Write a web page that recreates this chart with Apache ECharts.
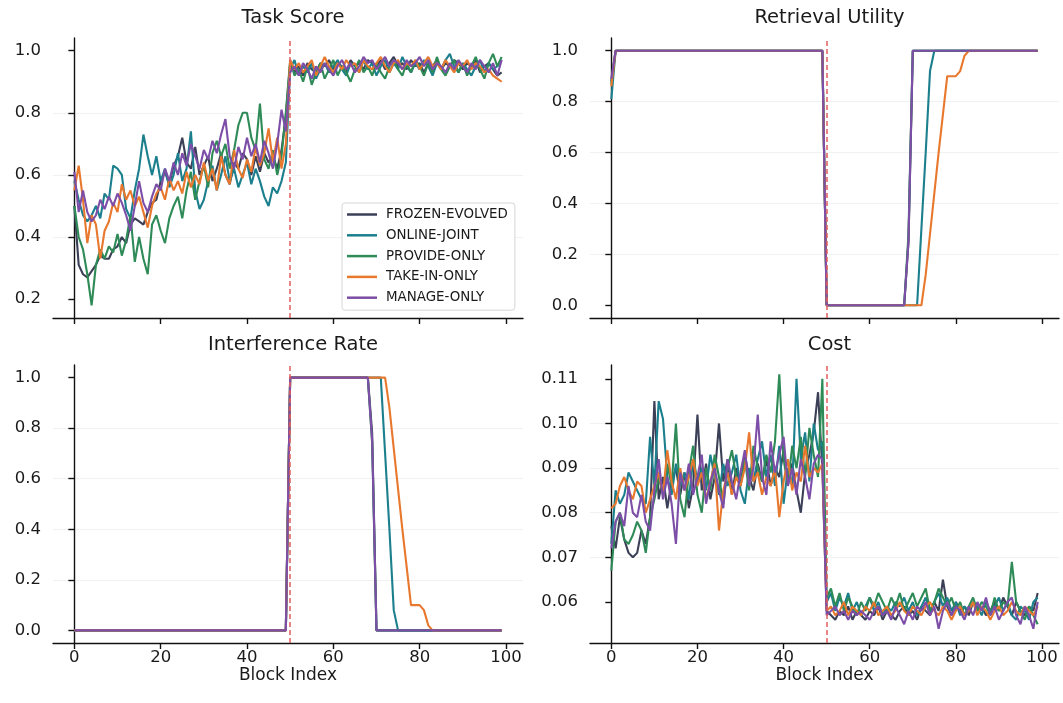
<!DOCTYPE html>
<html>
<head>
<meta charset="utf-8">
<script src="https://cdn.jsdelivr.net/npm/echarts@6/dist/echarts.min.js"></script>
<style>
html, body { margin: 0; padding: 0; background: #fff; }
#chart { width: 1063px; height: 703px; }
</style>
</head>
<body>
<div id="chart"></div>
<script>
// ---- data ----
const methods = ['FROZEN-EVOLVED', 'ONLINE-JOINT', 'PROVIDE-ONLY', 'TAKE-IN-ONLY', 'MANAGE-ONLY'];
const colors = ['#3c4057', '#1c7f8d', '#2e8b57', '#e8782e', '#7c4ea7'];
const blocks = Array.from({ length: 100 }, (_, i) => i);
const shiftBlock = 50;
const xTicks = [0, 20, 40, 60, 80, 100];
const scoreTicks = [0.2, 0.4, 0.6, 0.8, 1.0];
const unitTicks = [0, 0.2, 0.4, 0.6, 0.8, 1.0];
const costTicks = [0.06, 0.07, 0.08, 0.09, 0.10, 0.11];

// Task Score
const scoreFrozen = [
  0.50,0.31,0.28,0.27,0.29,0.31,0.34,0.33,0.33,0.36,
  0.37,0.40,0.38,0.44,0.46,0.45,0.44,0.48,0.51,0.52,
  0.58,0.61,0.57,0.63,0.66,0.72,0.64,0.62,0.69,0.60,
  0.63,0.66,0.58,0.62,0.67,0.60,0.57,0.64,0.62,0.67,
  0.65,0.60,0.66,0.61,0.67,0.64,0.66,0.62,0.68,0.79,
  0.96,0.93,0.95,0.92,0.96,0.94,0.93,0.96,0.95,0.97,
  0.94,0.96,0.95,0.93,0.97,0.95,0.96,0.94,0.97,0.96,
  0.95,0.97,0.94,0.96,0.98,0.95,0.96,0.94,0.97,0.95,
  0.96,0.93,0.96,0.95,0.97,0.94,0.96,0.95,0.97,0.96,
  0.94,0.96,0.95,0.97,0.93,0.95,0.96,0.94,0.92,0.93
];
const scoreOnline = [
  0.58,0.52,0.47,0.45,0.47,0.50,0.46,0.54,0.52,0.63,
  0.62,0.60,0.49,0.46,0.55,0.62,0.73,0.66,0.60,0.66,
  0.58,0.62,0.56,0.60,0.67,0.58,0.62,0.74,0.55,0.49,
  0.52,0.58,0.63,0.55,0.60,0.66,0.58,0.62,0.56,0.60,
  0.64,0.57,0.62,0.58,0.53,0.50,0.56,0.54,0.58,0.64,
  0.94,0.97,0.92,0.95,0.93,0.96,0.91,0.94,0.96,0.93,
  0.95,0.97,0.94,0.92,0.96,0.95,0.93,0.97,0.94,0.96,
  0.92,0.95,0.97,0.93,0.96,0.94,0.98,0.95,0.93,0.96,
  0.94,0.97,0.95,0.92,0.96,0.94,0.97,0.99,0.95,0.93,
  0.96,0.94,0.92,0.95,0.97,0.93,0.96,0.94,0.95,0.97
];
const scoreProvide = [
  0.50,0.40,0.36,0.28,0.18,0.31,0.36,0.33,0.37,0.35,
  0.41,0.34,0.39,0.47,0.32,0.40,0.33,0.28,0.44,0.47,
  0.42,0.38,0.46,0.50,0.53,0.46,0.55,0.61,0.52,0.58,
  0.63,0.56,0.67,0.71,0.66,0.70,0.62,0.68,0.76,0.80,
  0.80,0.72,0.68,0.83,0.65,0.62,0.68,0.60,0.66,0.80,
  0.97,0.92,0.94,0.90,0.95,0.89,0.93,0.96,0.91,0.94,
  0.97,0.92,0.95,0.93,0.90,0.94,0.97,0.93,0.95,0.92,
  0.96,0.93,0.91,0.95,0.97,0.94,0.92,0.96,0.93,0.97,
  0.95,0.92,0.96,0.93,0.98,0.94,0.92,0.95,0.97,0.93,
  0.96,0.92,0.95,0.98,0.94,0.91,0.96,0.99,0.95,0.98
];
const scoreTakeIn = [
  0.55,0.63,0.52,0.38,0.47,0.44,0.33,0.42,0.45,0.51,
  0.48,0.57,0.52,0.55,0.50,0.53,0.48,0.43,0.50,0.54,
  0.56,0.52,0.59,0.55,0.58,0.54,0.61,0.56,0.60,0.57,
  0.64,0.58,0.62,0.55,0.66,0.60,0.57,0.68,0.62,0.59,
  0.65,0.61,0.69,0.63,0.67,0.75,0.64,0.72,0.62,0.70,
  0.97,0.94,0.96,0.93,0.95,0.97,0.92,0.95,0.98,0.95,
  0.93,0.96,0.94,0.97,0.95,0.96,0.93,0.97,0.95,0.94,
  0.96,0.98,0.95,0.93,0.96,0.97,0.94,0.96,0.95,0.97,
  0.94,0.96,0.98,0.95,0.96,0.94,0.97,0.95,0.93,0.96,
  0.95,0.97,0.94,0.96,0.95,0.93,0.94,0.92,0.91,0.90
];
const scoreManage = [
  0.61,0.48,0.55,0.48,0.45,0.47,0.52,0.49,0.53,0.50,
  0.54,0.51,0.47,0.42,0.50,0.58,0.51,0.48,0.53,0.57,
  0.55,0.62,0.58,0.64,0.60,0.67,0.63,0.70,0.66,0.62,
  0.68,0.65,0.71,0.67,0.73,0.78,0.66,0.62,0.69,0.65,
  0.72,0.66,0.70,0.64,0.71,0.67,0.62,0.70,0.81,0.74,
  0.93,0.95,0.92,0.96,0.94,0.91,0.95,0.93,0.96,0.94,
  0.92,0.95,0.97,0.94,0.96,0.93,0.95,0.98,0.96,0.97,
  0.94,0.96,0.98,0.95,0.97,0.96,0.94,0.97,0.95,0.96,
  0.98,0.95,0.97,0.94,0.96,0.95,0.93,0.96,0.94,0.97,
  0.95,0.93,0.96,0.94,0.97,0.95,0.93,0.96,0.92,0.97
];

// Retrieval Utility / Interference Rate: [block, value] at every change point
const utilFrozen  = [[0,0.88],[1,1],[49,1],[50,0],[68,0],[69,0.25],[70,1],[99,1]];
const utilOnline  = [[0,0.81],[1,1],[49,1],[50,0],[71,0],[72,0.30],[73,0.60],[74,0.92],[75,1],[99,1]];
const utilProvide = [[0,0.87],[1,1],[49,1],[50,0],[68,0],[69,0.28],[70,1],[99,1]];
const utilTakeIn  = [[0,0.86],[1,1],[49,1],[50,0],[72,0],[73,0.12],[74,0.28],[75,0.44],[76,0.60],[77,0.75],[78,0.90],[79,0.90],[80,0.90],[81,0.92],[82,0.98],[83,1],[99,1]];
const utilManage  = [[0,0.89],[1,1],[49,1],[50,0],[68,0],[69,0.25],[70,1],[99,1]];

const interFrozen  = [[0,0],[49,0],[50,1],[68,1],[69,0.78],[70,0],[99,0]];
const interOnline  = [[0,0],[49,0],[50,1],[71,1],[72,0.70],[73,0.40],[74,0.08],[75,0],[99,0]];
const interProvide = [[0,0],[49,0],[50,1],[68,1],[69,0.74],[70,0],[99,0]];
const interTakeIn  = [[0,0],[49,0],[50,1],[72,1],[73,0.88],[74,0.72],[75,0.56],[76,0.40],[77,0.25],[78,0.10],[79,0.10],[80,0.10],[81,0.08],[82,0.02],[83,0],[99,0]];
const interManage  = [[0,0],[49,0],[50,1],[68,1],[69,0.75],[70,0],[99,0]];

// Cost
const costFrozen = [
  0.077,0.072,0.079,0.074,0.071,0.070,0.071,0.076,0.073,0.079,
  0.105,0.083,0.088,0.081,0.087,0.090,0.084,0.089,0.081,0.086,
  0.102,0.085,0.091,0.083,0.088,0.100,0.087,0.092,0.084,0.090,
  0.086,0.093,0.088,0.085,0.091,0.087,0.092,0.086,0.090,0.088,
  0.094,0.087,0.091,0.085,0.080,0.089,0.093,0.098,0.107,0.090,
  0.058,0.057,0.056,0.058,0.057,0.059,0.056,0.058,0.057,0.056,
  0.058,0.057,0.059,0.056,0.058,0.057,0.056,0.058,0.059,0.057,
  0.058,0.056,0.059,0.058,0.057,0.060,0.058,0.065,0.059,0.057,
  0.060,0.058,0.059,0.057,0.060,0.058,0.059,0.057,0.058,0.060,
  0.058,0.061,0.059,0.057,0.060,0.058,0.057,0.059,0.058,0.062
];
const costOnline = [
  0.073,0.085,0.082,0.084,0.089,0.087,0.085,0.083,0.082,0.097,
  0.086,0.105,0.101,0.088,0.084,0.091,0.086,0.089,0.083,0.092,
  0.087,0.090,0.085,0.093,0.088,0.084,0.091,0.086,0.089,0.093,
  0.085,0.082,0.090,0.087,0.092,0.096,0.088,0.093,0.086,0.095,
  0.082,0.090,0.086,0.110,0.092,0.098,0.087,0.100,0.094,0.096,
  0.060,0.062,0.058,0.061,0.059,0.062,0.058,0.060,0.057,0.059,
  0.061,0.058,0.060,0.057,0.059,0.058,0.060,0.059,0.061,0.058,
  0.060,0.057,0.059,0.061,0.058,0.060,0.062,0.059,0.061,0.058,
  0.060,0.057,0.059,0.058,0.060,0.059,0.057,0.060,0.058,0.059,
  0.061,0.058,0.060,0.057,0.056,0.059,0.058,0.056,0.060,0.061
];
const costProvide = [
  0.067,0.078,0.080,0.074,0.073,0.075,0.078,0.076,0.071,0.079,
  0.083,0.088,0.084,0.091,0.086,0.100,0.083,0.079,0.089,0.095,
  0.084,0.080,0.090,0.085,0.093,0.088,0.082,0.090,0.094,0.088,
  0.086,0.092,0.085,0.095,0.090,0.087,0.093,0.089,0.096,0.111,
  0.092,0.086,0.095,0.090,0.097,0.088,0.099,0.093,0.088,0.110,
  0.061,0.063,0.059,0.062,0.058,0.061,0.059,0.057,0.060,0.058,
  0.061,0.059,0.062,0.060,0.058,0.061,0.059,0.062,0.058,0.060,
  0.062,0.059,0.061,0.063,0.058,0.060,0.063,0.061,0.059,0.061,
  0.058,0.060,0.057,0.059,0.061,0.058,0.060,0.059,0.057,0.061,
  0.058,0.060,0.059,0.069,0.060,0.058,0.056,0.059,0.057,0.055
];
const costTakeIn = [
  0.081,0.082,0.086,0.088,0.085,0.083,0.087,0.086,0.080,0.083,
  0.086,0.089,0.084,0.094,0.087,0.083,0.090,0.085,0.088,0.092,
  0.086,0.089,0.083,0.087,0.091,0.076,0.085,0.089,0.084,0.088,
  0.086,0.090,0.098,0.087,0.089,0.084,0.088,0.086,0.090,0.079,
  0.087,0.092,0.085,0.089,0.087,0.095,0.088,0.090,0.089,0.091,
  0.058,0.059,0.057,0.058,0.060,0.057,0.059,0.058,0.057,0.059,
  0.058,0.060,0.057,0.058,0.059,0.057,0.058,0.060,0.058,0.057,
  0.059,0.058,0.057,0.059,0.060,0.058,0.057,0.059,0.058,0.056,
  0.058,0.059,0.057,0.058,0.060,0.057,0.059,0.058,0.056,0.058,
  0.059,0.057,0.058,0.060,0.058,0.057,0.059,0.058,0.057,0.059
];
const costManage = [
  0.072,0.078,0.080,0.077,0.086,0.080,0.079,0.084,0.078,0.076,
  0.085,0.092,0.083,0.088,0.082,0.073,0.089,0.085,0.091,0.084,
  0.088,0.093,0.082,0.087,0.090,0.085,0.081,0.092,0.087,0.083,
  0.089,0.094,0.086,0.090,0.102,0.088,0.084,0.096,0.089,0.093,
  0.097,0.086,0.090,0.084,0.092,0.088,0.083,0.091,0.093,0.092,
  0.057,0.058,0.059,0.057,0.058,0.056,0.058,0.057,0.058,0.057,
  0.056,0.058,0.059,0.057,0.058,0.056,0.059,0.057,0.055,0.058,
  0.056,0.059,0.058,0.060,0.057,0.059,0.054,0.058,0.060,0.057,
  0.059,0.058,0.056,0.059,0.057,0.060,0.058,0.061,0.057,0.059,
  0.056,0.058,0.060,0.061,0.057,0.055,0.059,0.057,0.054,0.060
];

// ---- chart ----
const FONT = 'DejaVu Sans';
const panels = [
  { title: 'Task Score', series: [scoreFrozen, scoreOnline, scoreProvide, scoreTakeIn, scoreManage], min: 0.139, max: 1.041, ticks: scoreTicks, digits: 1 },
  { title: 'Retrieval Utility', series: [utilFrozen, utilOnline, utilProvide, utilTakeIn, utilManage], min: -0.05, max: 1.05, ticks: unitTicks, digits: 1 },
  { title: 'Interference Rate', series: [interFrozen, interOnline, interProvide, interTakeIn, interManage], min: -0.05, max: 1.05, ticks: unitTicks, digits: 1 },
  { title: 'Cost', series: [costFrozen, costOnline, costProvide, costTakeIn, costManage], min: 0.0508, max: 0.1131, ticks: costTicks, digits: 2 }
];
const grids = [
  { left: 53, top: 38, width: 470, height: 280 },
  { left: 590, top: 38, width: 469, height: 280 },
  { left: 53, top: 365, width: 470, height: 278 },
  { left: 590, top: 365, width: 469, height: 278 }
];

const axisLineStyle = { color: '#111', width: 1.4 };

let chart = echarts.init(document.getElementById('chart'));

const titles = panels.map((p, i) => ({
  text: p.title,
  left: grids[i].left + grids[i].width / 2,
  top: i < 2 ? 3 : 330,
  textAlign: 'center',
  textStyle: { fontFamily: FONT, fontSize: 19.5, fontWeight: 'normal', color: '#1a1a1a' }
}));

const xAxes = panels.map((p, i) => ({
  type: 'value',
  gridIndex: i,
  min: -4.95,
  max: 103.95,
  axisLine: { onZero: false, lineStyle: axisLineStyle },
  axisTick: { show: true, length: 6, customValues: xTicks, lineStyle: axisLineStyle },
  axisLabel: { show: i >= 2, customValues: xTicks, fontFamily: FONT, fontSize: 16.5, color: '#1a1a1a', margin: 6 },
  splitLine: { show: false },
  name: i >= 2 ? 'Block Index' : '',
  nameLocation: 'middle',
  nameGap: 21,
  nameTextStyle: { fontFamily: FONT, fontSize: 17, color: '#1a1a1a' }
}));

const yAxes = panels.map((p, i) => ({
  type: 'value',
  gridIndex: i,
  min: p.min,
  max: p.max,
  splitNumber: 5,
  axisLine: { show: true, lineStyle: axisLineStyle },
  axisTick: { show: true, length: 6, customValues: p.ticks, lineStyle: axisLineStyle },
  axisLabel: {
    customValues: p.ticks,
    fontFamily: FONT, fontSize: 16.5, color: '#1a1a1a', margin: 12,
    formatter: v => Number(v).toFixed(p.digits)
  },
  splitLine: { show: true, showMinLine: false, showMaxLine: false, lineStyle: { color: '#f1f1f1', width: 1 } }
}));

const series = [];
panels.forEach((p, gi) => {
  p.series.forEach((vals, si) => {
    const data = Array.isArray(vals[0]) ? vals : blocks.map(b => [b, vals[b]]);
    const s = {
      name: methods[si],
      type: 'line',
      xAxisIndex: gi,
      yAxisIndex: gi,
      data: data,
      showSymbol: false,
      symbol: 'none',
      lineStyle: { width: 2.1, color: colors[si] },
      itemStyle: { color: colors[si] },
      emphasis: { disabled: true },
      animation: false
    };
    if (si === 0) {
      s.markLine = {
        silent: true,
        symbol: 'none',
        label: { show: false },
        lineStyle: { color: '#e35d5d', type: [5, 3], width: 1.5 },
        data: [{ xAxis: shiftBlock }],
        animation: false
      };
    }
    series.push(s);
  });
});

chart.setOption({
  backgroundColor: '#fff',
  animation: false,
  title: titles,
  grid: grids,
  xAxis: xAxes,
  yAxis: yAxes,
  legend: {
    data: methods,
    orient: 'vertical',
    left: 342,
    top: 203,
    icon: 'rect',
    itemWidth: 30,
    itemHeight: 2.5,
    itemGap: 7.8,
    padding: [5, 7, 6, 5],
    borderColor: '#d6d6d6',
    borderWidth: 1,
    borderRadius: 3,
    backgroundColor: '#fff',
    textStyle: { fontFamily: FONT, fontSize: 13.4, color: '#1a1a1a', padding: [0, 0, 0, 4] }
  },
  series: series
});
</script>
</body>
</html>
